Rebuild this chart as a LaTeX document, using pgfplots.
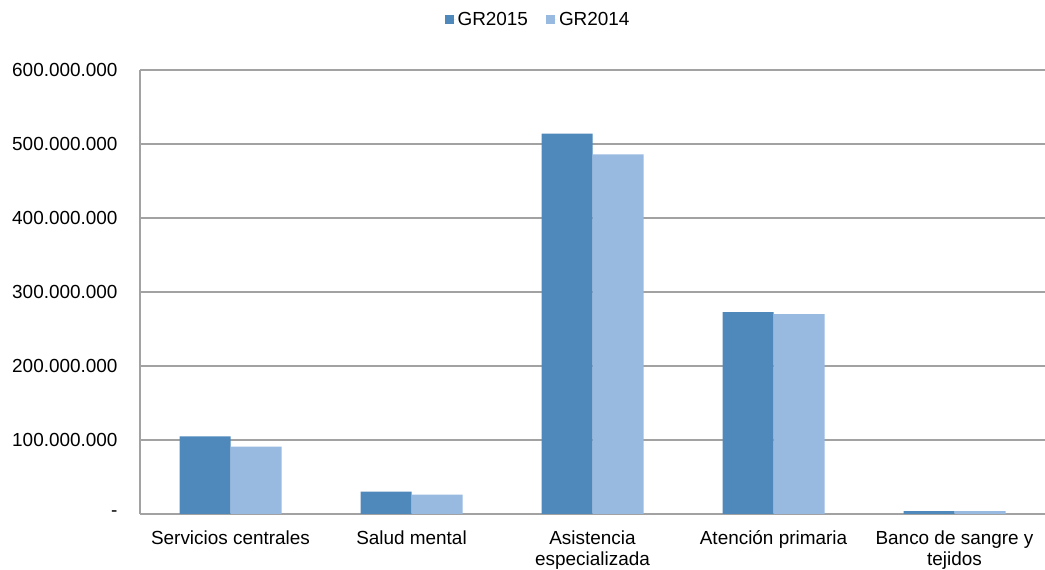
\documentclass[border=0pt]{standalone}
\usepackage{pgfplots}
\pgfplotsset{compat=1.18}
\usepackage{fontspec}
\setmainfont{Liberation Sans}
\definecolor{gr15}{RGB}{79,137,188}
\definecolor{gr14}{RGB}{152,185,224}
\definecolor{gridc}{RGB}{162,162,162}
\newcommand{\lblfont}{\fontsize{19}{21.5}\selectfont}
\begin{document}
\lblfont
\begin{tikzpicture}[x=1bp,y=1bp]
\useasboundingbox (0,0) rectangle (1045,570);
\begin{axis}[
  at={(140bp,56bp)}, anchor=south west,
  scale only axis, width=905bp, height=444bp,
  ybar=0pt, bar width=51bp,
  xmin=-0.5, xmax=4.5, ymin=0, ymax=600000000,
  scaled y ticks=false,
  xtick={0,1,2,3,4},
  xticklabels={Servicios centrales, Salud mental, {Asistencia\\especializada}, Atención primaria, {Banco de sangre y\\tejidos}},
  xticklabel style={align=center, font=\lblfont, yshift=-10bp},
  ytick={0,100000000,200000000,300000000,400000000,500000000,600000000},
  yticklabels={-,100.000.000,200.000.000,300.000.000,400.000.000,500.000.000,600.000.000},
  yticklabel style={font=\lblfont, xshift=-16bp},
  ymajorgrids, grid style={gridc, line width=1.2bp},
  axis x line*=bottom, axis y line*=left,
  axis line style={gridc, line width=1.2bp},
  major tick length=0pt,
  legend style={at={(0.4398,1.1126)}, anchor=center, draw=none, fill=none,
    font=\lblfont, legend columns=-1,
    /tikz/every even column/.append style={column sep=16bp}},
  legend image code/.code={\path (0bp,0bp) -- (11bp,0bp);\fill[#1] (0bp,-4.5bp) rectangle (9bp,4.5bp);},
]
\addplot[fill=gr15, draw=none] coordinates {(0,105000000) (1,30200000) (2,514000000) (3,272800000) (4,4000000)};
\addplot[fill=gr14, draw=none] coordinates {(0,91100000) (1,26100000) (2,486000000) (3,270000000) (4,4000000)};
\legend{GR2015, GR2014}
\end{axis}
\end{tikzpicture}
\end{document}
